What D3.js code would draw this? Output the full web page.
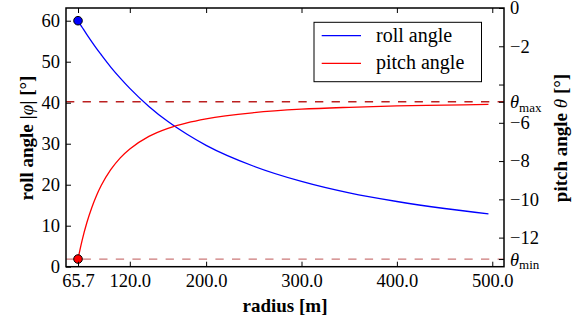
<!DOCTYPE html>
<html>
<head>
<meta charset="utf-8">
<script src="https://cdn.jsdelivr.net/npm/d3@7"></script>
<style>
  body { margin: 0; background: #fff; }
  svg text { font-family: "Liberation Serif", "DejaVu Serif", serif; fill: #000; }
</style>
</head>
<body>
<svg id="chart" width="582" height="322"></svg>
<script>
// radius [m]
var radius = [65.7, 67.5, 70, 75, 80, 85, 90, 100, 110, 120, 140, 160, 180, 200, 250, 300, 350, 400, 450, 496];
// roll angle |phi| [deg], left axis
var roll = [60.0, 59.3, 58.4, 56.6, 54.9, 53.25, 51.7, 48.7, 46.0, 43.5, 39.1, 35.4, 32.3, 29.6, 24.5, 20.8, 18.0, 15.9, 14.2, 12.9];
// pitch angle theta [deg], right axis
var pitch = [-13.12, -12.69, -12.14, -11.21, -10.45, -9.81, -9.28, -8.45, -7.83, -7.37, -6.71, -6.29, -6.0, -5.79, -5.47, -5.29, -5.19, -5.12, -5.08, -5.04];

var thetaMax = -4.9;
var thetaMin = -13.12;

var xTicks = [65.7, 120, 200, 300, 400, 500];
var rollTicks = [0, 10, 20, 30, 40, 50, 60];
var pitchTicks = [-12, -10, -8, -6, -4, -2, 0];

var seriesNames = ["roll angle", "pitch angle"];
var seriesColors = ["#0000ff", "#ff0000"];

var svg = d3.select("#chart");
var pL = 66, pR = 504, pT = 8, pB = 266.7;

var x = d3.scaleLinear().domain([53.1, 512.3]).range([pL, pR]);
var yL = d3.scaleLinear().domain([0, 63.1]).range([pB, pT]);
var yR = d3.scaleLinear().domain([-13.52, 0]).range([pB, pT]);

var tickFont = "18.5px";

// dashed limit lines
svg.append("line")
    .attr("x1", pL).attr("x2", pR)
    .attr("y1", yR(thetaMax)).attr("y2", yR(thetaMax))
    .style("stroke", "#bb2020").style("stroke-width", 1.3)
    .style("stroke-dasharray", "8.3,8.3");
svg.append("line")
    .attr("x1", pL).attr("x2", pR)
    .attr("y1", yR(thetaMin)).attr("y2", yR(thetaMin))
    .style("stroke", "#cc7878").style("stroke-width", 1.3)
    .style("stroke-dasharray", "8.3,8.3");

// curves
var rollLine = d3.line()
    .x(function (d, i) { return x(radius[i]); })
    .y(function (d) { return yL(d); })
    .curve(d3.curveMonotoneX);
var pitchLine = d3.line()
    .x(function (d, i) { return x(radius[i]); })
    .y(function (d) { return yR(d); })
    .curve(d3.curveMonotoneX);

svg.append("path").datum(roll)
    .attr("d", rollLine)
    .style("fill", "none").style("stroke", seriesColors[0]).style("stroke-width", 1.3);
svg.append("path").datum(pitch)
    .attr("d", pitchLine)
    .style("fill", "none").style("stroke", seriesColors[1]).style("stroke-width", 1.3);

// start markers
svg.append("circle")
    .attr("cx", x(radius[0])).attr("cy", yL(roll[0])).attr("r", 4.3)
    .style("fill", seriesColors[0]).style("stroke", "#000").style("stroke-width", 1);
svg.append("circle")
    .attr("cx", x(radius[0])).attr("cy", yR(pitch[0])).attr("r", 4.3)
    .style("fill", seriesColors[1]).style("stroke", "#000").style("stroke-width", 1);

// axes
var xAxis = d3.axisBottom(x).tickValues(xTicks).tickFormat(d3.format(".1f"))
    .tickSizeInner(-5).tickSizeOuter(0).tickPadding(7);
var xAxisTop = d3.axisTop(x).tickValues(xTicks).tickFormat("")
    .tickSizeInner(-5).tickSizeOuter(0);
var yAxisL = d3.axisLeft(yL).tickValues(rollTicks).tickFormat(d3.format("d"))
    .tickSizeInner(-5).tickSizeOuter(0).tickPadding(6);
var yAxisR = d3.axisRight(yR).tickValues(pitchTicks.concat([thetaMax, thetaMin]))
    .tickFormat(function (d) {
        if (d === thetaMax || d === thetaMin || d === -4) return "";
        return d < 0 ? "\u2212" + Math.abs(d) : String(d);
    })
    .tickSizeInner(-5).tickSizeOuter(0).tickPadding(6);

function styleAxis(g) {
    g.select(".domain").remove();
    g.selectAll(".tick line").style("stroke", "#000").style("stroke-width", 1);
    g.selectAll(".tick text").style("font-size", tickFont)
        .style("font-family", "'Liberation Serif', serif").style("fill", "#000");
}

svg.append("g").attr("transform", "translate(0," + pB + ")").call(xAxis).call(styleAxis);
svg.append("g").attr("transform", "translate(0," + pT + ")").call(xAxisTop).call(styleAxis);
svg.append("g").attr("transform", "translate(" + pL + ",0)").call(yAxisL).call(styleAxis);
svg.append("g").attr("transform", "translate(" + pR + ",0)").call(yAxisR).call(styleAxis);

// theta max / min labels
[[thetaMax, "max"], [thetaMin, "min"]].forEach(function (t) {
    var lab = svg.append("text")
        .attr("x", pR + 6).attr("y", yR(t[0]))
        .attr("dy", "0.35em")
        .style("font-size", tickFont);
    lab.append("tspan").style("font-style", "italic").text("\u03b8");
    lab.append("tspan").attr("dy", "0.3em").style("font-size", "13px").text(t[1]);
});

// frame
svg.append("rect")
    .attr("x", pL).attr("y", pT)
    .attr("width", pR - pL).attr("height", pB - pT)
    .style("fill", "none").style("stroke", "#000").style("stroke-width", 1.5);

// axis labels
svg.append("text")
    .attr("x", 285).attr("y", 312)
    .attr("text-anchor", "middle")
    .style("font-size", "19px").style("font-weight", "bold")
    .text("radius [m]");

var ll = svg.append("text")
    .attr("transform", "translate(33,138) rotate(-90)")
    .attr("text-anchor", "middle")
    .style("font-size", "19px").style("font-weight", "bold");
ll.append("tspan").text("roll angle |");
ll.append("tspan").style("font-style", "italic").style("font-weight", "normal").text("\u03c6");
ll.append("tspan").text("| [\u00b0]");

var rl = svg.append("text")
    .attr("transform", "translate(567,138) rotate(-90)")
    .attr("text-anchor", "middle")
    .style("font-size", "19px").style("font-weight", "bold");
rl.append("tspan").text("pitch angle ");
rl.append("tspan").style("font-style", "italic").style("font-weight", "normal").text("\u03b8");
rl.append("tspan").text(" [\u00b0]");

// legend
var legend = svg.append("g");
legend.append("rect")
    .attr("x", 314).attr("y", 22.3).attr("width", 167.5).attr("height", 59.4)
    .style("fill", "#fff").style("stroke", "#000").style("stroke-width", 1);
seriesNames.forEach(function (name, i) {
    var yy = 35.7 + i * 27.6;
    legend.append("line")
        .attr("x1", 321.7).attr("x2", 361).attr("y1", yy).attr("y2", yy)
        .style("stroke", seriesColors[i]).style("stroke-width", 1.3);
    legend.append("text")
        .attr("x", 376).attr("y", yy + 6)
        .style("font-size", "20px")
        .text(name);
});
</script>
</body>
</html>
